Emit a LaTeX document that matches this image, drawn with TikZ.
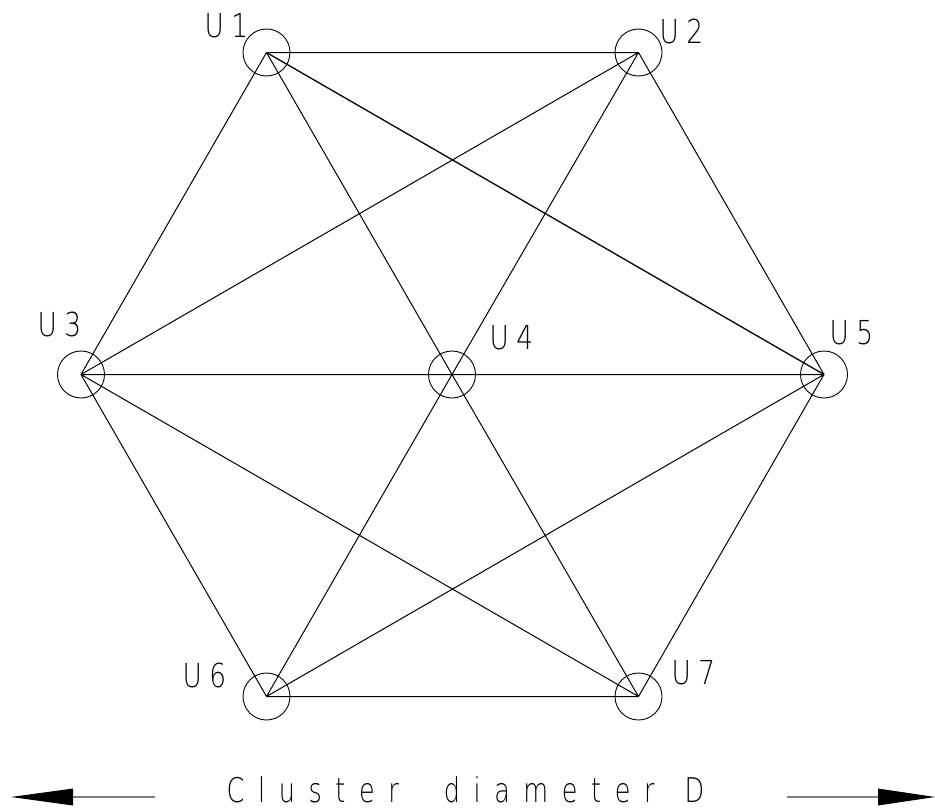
\documentclass[tikz,border=0pt]{standalone}
\usepackage{fontspec}
\newfontfamily\cadfont[FakeStretch=0.75,LetterSpace=40]{DejaVu Sans ExtraLight}
\newfontfamily\cadlab[FakeStretch=0.8,LetterSpace=22]{DejaVu Sans ExtraLight}
\begin{document}
\begin{tikzpicture}[x=1pt,y=-1pt,
  unit/.style={circle,draw,line width=0.9pt,minimum size=47pt,inner sep=0pt},
  edge/.style={line width=1pt},
  lab/.style={anchor=base west,inner sep=0pt,font=\cadlab\fontsize{33}{33}\selectfont},
  dimline/.style={line width=2pt,draw=black!50},
  head/.style={fill=black}]
\useasboundingbox (0,0) rectangle (935,811);
\coordinate (c1) at (266.5,52.5);
\coordinate (c2) at (638.5,52.5);
\coordinate (c3) at (81,374.5);
\coordinate (c4) at (452,374.5);
\coordinate (c5) at (824,374.5);
\coordinate (c6) at (266.5,696.5);
\coordinate (c7) at (638.5,696.5);
\foreach \i in {1,...,7} \node[unit] (u\i) at (c\i) {};
\draw[edge] (c1)--(c2) (c1)--(c3) (c1)--(c4)
  (c2)--(c3) (c2)--(c4) (c2)--(c5)
  (c3)--(c4) (c3)--(c6) (c3)--(c7)
  (c4)--(c5) (c4)--(c6) (c4)--(c7)
  (c5)--(c6) (c5)--(c7) (c6)--(c7);
\draw[line width=1.3pt] (c1)--(c5);
\node[lab] (l1) at (204.5,37) {U1};
\node[lab] (l2) at (659.5,43) {U2};
\node[lab] (l3) at (37.5,336) {U3};
\node[lab] (l4) at (489.5,349) {U4};
\node[lab] (l5) at (829.5,344) {U5};
\node[lab] (l6) at (182.5,687) {U6};
\node[lab] (l7) at (671.5,684) {U7};
\node[anchor=base west,inner sep=0pt,font=\cadfont\fontsize{34}{34}\selectfont] (cap) at (226.5,802) {Cluster\hspace{45pt}diameter\hspace{30pt}D};
\coordinate (la) at (11,797);
\coordinate (lb) at (73,797);
\coordinate (lc) at (155,797);
\coordinate (ra) at (935,797);
\coordinate (rb) at (878,797);
\coordinate (rc) at (787,797);
\draw[dimline] (lb)--(lc);
\draw[dimline] (rc)--(rb);
\fill[head] (la)--([yshift=-8.5pt]lb)--([yshift=8.5pt]lb)--cycle;
\fill[head] (ra)--([yshift=-8.5pt]rb)--([yshift=8.5pt]rb)--cycle;
\end{tikzpicture}
\end{document}
